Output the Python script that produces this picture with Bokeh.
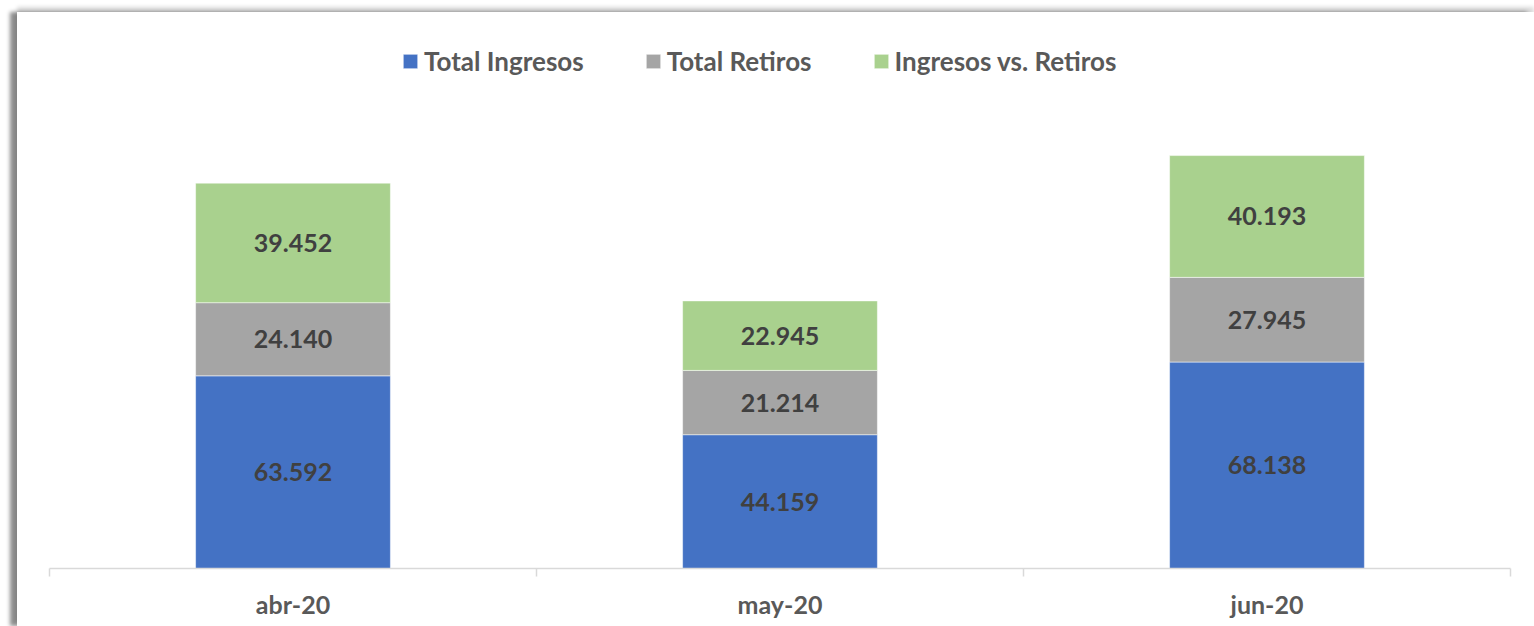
from bokeh.plotting import figure
from bokeh.models import Range1d, FixedTicker, Legend, LegendItem, ColumnDataSource
from bokeh.core.properties import value
from bokeh.embed import file_html
from bokeh.resources import INLINE

months = ["abr-20", "may-20", "jun-20"]
series = ["Total Ingresos", "Total Retiros", "Ingresos vs. Retiros"]
ingresos = [63592, 44159, 68138]
retiros = [24140, 21214, 27945]
diferencia = [39452, 22945, 40193]
colors = ["#4472C4", "#A5A5A5", "#A9D18E"]

x = [i + 0.5 for i in range(len(months))]
keys = ["ing", "ret", "dif"]
src = ColumnDataSource(dict(x=x, ing=ingresos, ret=retiros, dif=diferencia))

p = figure(width=1517, height=614, output_backend="svg", toolbar_location=None,
           x_range=Range1d(0, len(months)), y_range=Range1d(0, 183500))
p.frame_width = 1461
p.frame_height = 556
p.min_border_left = 32
p.min_border_right = 24
p.min_border_top = 0
p.min_border_bottom = 58
p.outline_line_color = None
p.xgrid.visible = False
p.ygrid.visible = False
p.yaxis.visible = False
p.margin = (12, 0, 0, 17)
p.styles = {"box-shadow": "-7px 0px 4px rgba(0,0,0,0.45), 0px -5px 4px rgba(0,0,0,0.15)"}

rs = p.vbar_stack(keys, x="x", width=0.4, source=src, color=colors,
                  line_color="white", line_width=1, line_alpha=0.5)

# value labels
lx, ly, lt = [], [], []
cols = [ingresos, retiros, diferencia]
for i in range(len(months)):
    base = 0
    for c in cols:
        v = c[i]
        lx.append(x[i])
        ly.append(base + v / 2)
        lt.append(f"{v:,}".replace(",", "."))
        base += v
lsrc = ColumnDataSource(dict(x=lx, y=ly, t=lt))
p.text(x="x", y="y", text="t", source=lsrc, text_align="center", text_baseline="middle",
       text_font=value("Lato"), text_font_style="bold", text_font_size="25px",
       text_color="#404040")

ax = p.xaxis[0]
ax.ticker = FixedTicker(ticks=x, minor_ticks=list(range(len(months) + 1)))
ax.major_label_overrides = {xi: m for xi, m in zip(x, months)}
ax.axis_line_color = "#D9D9D9"
ax.axis_line_width = 1.5
ax.major_tick_line_color = None
ax.major_tick_in = 0
ax.major_tick_out = 0
ax.minor_tick_line_color = "#D9D9D9"
ax.minor_tick_line_width = 1.5
ax.minor_tick_in = 0
ax.minor_tick_out = 8
ax.major_label_standoff = 12
ax.major_label_text_font = "Lato"
ax.major_label_text_font_style = "bold"
ax.major_label_text_font_size = "25px"
ax.major_label_text_color = "#595959"

legend = Legend(items=[LegendItem(label=s, renderers=[r]) for s, r in zip(series, rs)],
                orientation="horizontal", location=(352, 491))
legend.padding = 0
legend.margin = 0
legend.spacing = 60
legend.glyph_width = 18
legend.glyph_height = 18
legend.label_standoff = 5
legend.label_text_font = "Lato"
legend.label_text_font_style = "bold"
legend.label_text_font_size = "26px"
legend.label_text_color = "#595959"
legend.border_line_color = None
legend.background_fill_alpha = 0
p.add_layout(legend)

open("out.html", "w").write(file_html(p, INLINE))
